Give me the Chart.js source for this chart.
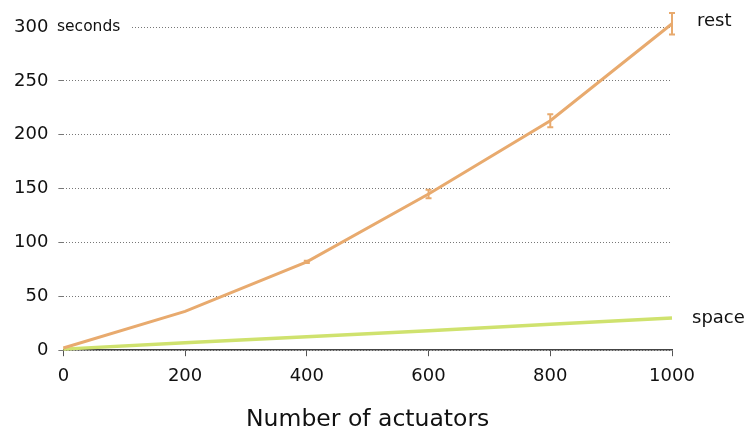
<!DOCTYPE html>
<html>
<head>
<meta charset="utf-8">
<script src="https://cdn.jsdelivr.net/npm/chart.js@4/dist/chart.umd.min.js"></script>
<style>
  html, body { margin: 0; padding: 0; background: #fff; }
  #wrap { width: 750px; height: 430px; }
</style>
</head>
<body>
<div id="wrap"><canvas id="c" width="750" height="430"></canvas></div>
<script>
// Benchmark: run time vs. number of actuators
const actuators = [0, 200, 400, 600, 800, 1000];
const restTime = [2, 36, 82, 145, 213, 303];
const restErr = [0, 0, 1, 4, 6, 10];
const spaceTime = [1, 7, 12.5, 18, 24, 30];
const yTicks = [0, 50, 100, 150, 200, 250, 300];

const restColor = '#e8aa6e';
const spaceColor = '#cfe26e';

const toPoints = (xs, ys) => xs.map((x, i) => ({ x: x, y: ys[i] }));

// error bars, series end labels and the unit label next to the top tick
const annotate = {
  id: 'annotate',
  afterDatasetsDraw(chart) {
    const ctx = chart.ctx;
    const xs = chart.scales.x, ys = chart.scales.y;
    ctx.save();
    ctx.strokeStyle = restColor;
    ctx.lineWidth = 2;
    actuators.forEach((a, i) => {
      const e = restErr[i];
      if (!e) return;
      const px = xs.getPixelForValue(a);
      const top = ys.getPixelForValue(restTime[i] + e);
      const bot = ys.getPixelForValue(restTime[i] - e);
      ctx.beginPath();
      ctx.moveTo(px, top); ctx.lineTo(px, bot);
      ctx.moveTo(px - 3, top); ctx.lineTo(px + 3, top);
      ctx.moveTo(px - 3, bot); ctx.lineTo(px + 3, bot);
      ctx.stroke();
    });

    ctx.fillStyle = '#111';
    ctx.font = '18px "DejaVu Sans"';
    ctx.textBaseline = 'middle';
    ctx.textAlign = 'left';
    const last = actuators.length - 1;
    const xEnd = xs.getPixelForValue(actuators[last]);
    ctx.fillText('rest', xEnd + 25, ys.getPixelForValue(restTime[last]) - 2);
    ctx.fillText('space', xEnd + 20, ys.getPixelForValue(spaceTime[last]));

    // unit label over the top gridline
    const yTop = ys.getPixelForValue(300);
    ctx.font = '15.5px "DejaVu Sans"';
    ctx.fillStyle = '#fff';
    ctx.fillRect(54, yTop - 10, 76, 20);
    ctx.fillStyle = '#111';
    ctx.fillText('seconds', 57, yTop);
    ctx.restore();
  }
};

new Chart(document.getElementById('c'), {
  type: 'line',
  data: {
    datasets: [
      {
        label: 'rest',
        data: toPoints(actuators, restTime),
        borderColor: restColor,
        borderWidth: 3,
        pointRadius: 0,
        tension: 0,
        clip: false
      },
      {
        label: 'space',
        data: toPoints(actuators, spaceTime),
        borderColor: spaceColor,
        borderWidth: 3.5,
        pointRadius: 0,
        tension: 0,
        clip: false
      }
    ]
  },
  options: {
    responsive: false,
    animation: false,
    layout: { padding: { left: 4, right: 78, top: 27, bottom: 0 } },
    plugins: { legend: { display: false }, tooltip: { enabled: false } },
    scales: {
      x: {
        type: 'linear',
        min: 0,
        max: 1000,
        afterBuildTicks(axis) { axis.ticks = actuators.map(v => ({ value: v })); },
        grid: { drawOnChartArea: false, drawTicks: true, tickLength: 6, color: '#555', lineWidth: 1 },
        border: { display: true, color: '#444', width: 1.5 },
        ticks: {
          color: '#111',
          font: { family: 'DejaVu Sans', size: 18 },
          padding: 9,
          maxRotation: 0,
          callback: v => String(v)
        },
        title: {
          display: true,
          text: 'Number of actuators',
          color: '#111',
          font: { family: 'DejaVu Sans', size: 23.5 },
          padding: { top: 10, bottom: -4 }
        }
      },
      y: {
        min: 0,
        max: 300,
        afterBuildTicks(axis) { axis.ticks = yTicks.map(v => ({ value: v })); },
        grid: {
          color: '#777',
          lineWidth: 1,
          drawTicks: true,
          tickLength: 5,
          tickColor: '#777',
          tickBorderDash: []
        },
        border: { display: false, dash: [1, 2] },
        ticks: { color: '#111', font: { family: 'DejaVu Sans', size: 18 }, padding: 10 }
      }
    }
  },
  plugins: [annotate]
});
</script>
</body>
</html>
